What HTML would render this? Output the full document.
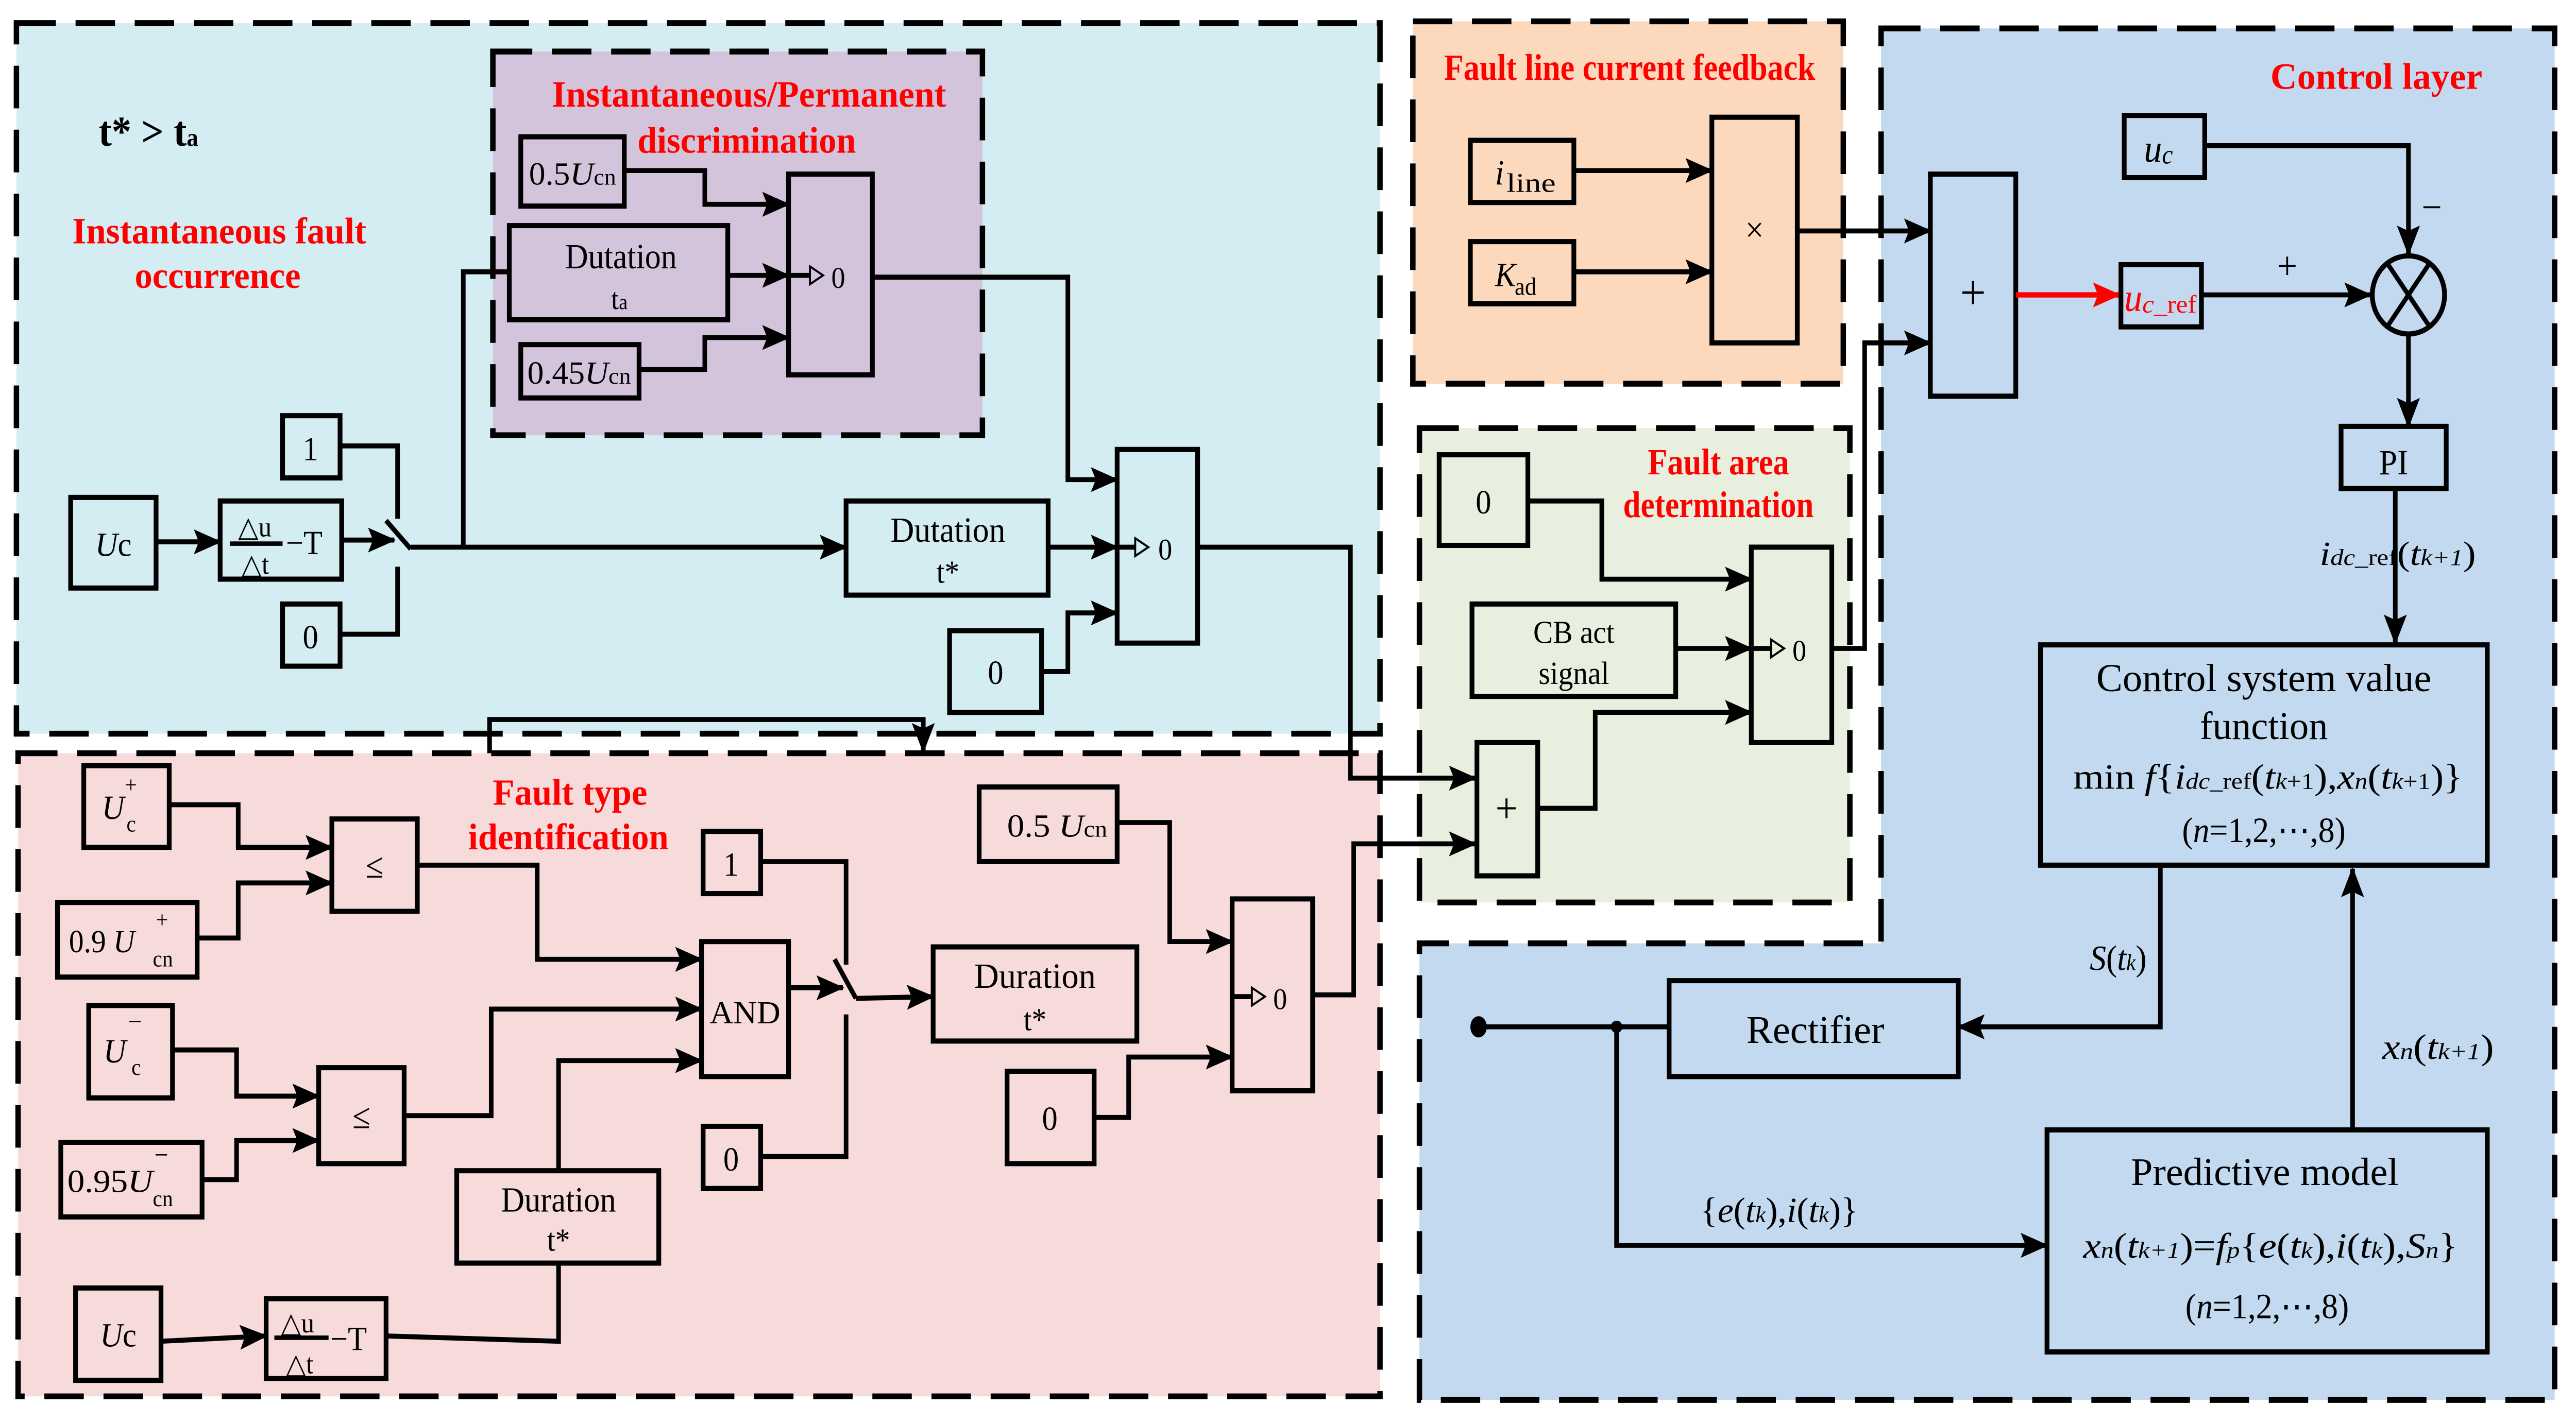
<!DOCTYPE html>
<html><head><meta charset="utf-8"><style>
html,body{margin:0;padding:0;background:#fff;overflow:hidden;width:100%;height:100%;}
svg{display:block;position:fixed;left:0;top:0;width:100vw;height:100vh;}
text{font-family:"Liberation Serif",serif;fill:#000;}
.r{fill:#ff0000;font-weight:bold;font-size:21px;}
.b{fill:none;stroke:#000;stroke-width:2.9;}
.l{fill:none;stroke:#000;stroke-width:2.8;}
.la{fill:none;stroke:#000;stroke-width:2.8;marker-end:url(#ar);}
.d{fill:none;stroke:#000;stroke-width:3.3;stroke-dasharray:24 12;}
</style></head><body>
<svg viewBox="0 0 1568 801" preserveAspectRatio="none" xmlns="http://www.w3.org/2000/svg">
<defs>
<marker id="ar" markerUnits="userSpaceOnUse" markerWidth="18" markerHeight="16" refX="16" refY="7" orient="auto"><path d="M0,0 L17,7 L0,14 L3,7 z" fill="#000"/></marker>
<marker id="arr" markerUnits="userSpaceOnUse" markerWidth="18" markerHeight="16" refX="16" refY="7" orient="auto"><path d="M0,0 L17,7 L0,14 L3,7 z" fill="#ff0000"/></marker>
</defs>
<rect width="1568" height="801" fill="#fff"/>
<!-- regions -->
<rect x="10" y="13" width="830" height="400" fill="#d4edf2"/>
<rect x="300" y="29" width="298" height="216" fill="#d3c4dc"/>
<rect x="11" y="424" width="829" height="362" fill="#f7dada"/>
<rect x="860" y="12" width="262" height="204" fill="#fcd8bc"/>
<rect x="864" y="241" width="262" height="267" fill="#e8efdf"/>
<path d="M1145,16 H1555 V788 H864 V531 H1145 Z" fill="#c2d9ef"/>
<rect x="10" y="13" width="830" height="400" class="d"/>
<rect x="300" y="29" width="298" height="216" class="d"/>
<rect x="11" y="424" width="829" height="362" class="d"/>
<rect x="860" y="12" width="262" height="204" class="d"/>
<rect x="864" y="241" width="262" height="267" class="d"/>
<path d="M1145,16 H1555 V788 H864 V531 H1145 Z" class="d"/>

<!-- titles -->
<text x="60" y="82" font-size="24" font-weight="bold">t* &gt;  t<tspan font-size="14">a</tspan></text>
<text class="r" x="44" y="137" textLength="179" lengthAdjust="spacingAndGlyphs">Instantaneous fault</text>
<text class="r" x="82" y="162" textLength="101" lengthAdjust="spacingAndGlyphs">occurrence</text>
<text class="r" x="336" y="60" textLength="240" lengthAdjust="spacingAndGlyphs">Instantaneous/Permanent</text>
<text class="r" x="388" y="86" textLength="133" lengthAdjust="spacingAndGlyphs">discrimination</text>
<text class="r" x="300" y="453" textLength="94" lengthAdjust="spacingAndGlyphs">Fault type</text>
<text class="r" x="285" y="478" textLength="122" lengthAdjust="spacingAndGlyphs">identification</text>
<text class="r" x="879" y="45" font-size="19" textLength="226" lengthAdjust="spacingAndGlyphs">Fault line current feedback</text>
<text class="r" x="1003" y="267" textLength="86" lengthAdjust="spacingAndGlyphs">Fault area</text>
<text class="r" x="988" y="291" textLength="116" lengthAdjust="spacingAndGlyphs">determination</text>
<text class="r" x="1382" y="50" font-size="22" textLength="129" lengthAdjust="spacingAndGlyphs">Control  layer</text>

<!-- ===== top-left region ===== -->
<rect x="43" y="280" width="52" height="51" class="b"/>
<text x="69" y="313" font-size="19" text-anchor="middle"><tspan font-style="italic">U</tspan>c</text>
<line x1="95" y1="305" x2="134" y2="305" class="la"/>
<rect x="134" y="282" width="74" height="44" class="b"/>
<text x="145" y="302" font-size="16">△u</text>
<line x1="140" y1="306" x2="172" y2="306" stroke="#000" stroke-width="2.5"/>
<text x="174" y="312" font-size="19">−T</text>
<text x="147" y="323" font-size="16">△t</text>
<line x1="208" y1="304" x2="240" y2="304" class="la"/>
<rect x="172" y="234" width="35" height="35" class="b"/><text x="189" y="259" font-size="19" text-anchor="middle">1</text>
<rect x="172" y="340" width="35" height="35" class="b"/><text x="189" y="365" font-size="19" text-anchor="middle">0</text>
<polyline points="207,251 242,251 242,292" class="l"/>
<polyline points="207,357 242,357 242,319" class="l"/>
<line x1="235" y1="293" x2="250" y2="309" class="l"/>
<line x1="250" y1="308" x2="515" y2="308" class="la"/>
<polyline points="282,308 282,153 310,153" class="l"/>
<!-- purple -->
<rect x="317" y="77" width="63" height="39" class="b"/>
<text x="322" y="104" font-size="18" textLength="53" lengthAdjust="spacingAndGlyphs">0.5<tspan font-style="italic">U</tspan><tspan font-size="13">cn</tspan></text>
<rect x="310" y="127" width="133" height="53" class="b"/>
<text x="344" y="151" font-size="20" textLength="68" lengthAdjust="spacingAndGlyphs">Dutation</text>
<text x="377" y="174" font-size="17" text-anchor="middle">t<tspan font-size="12">a</tspan></text>
<rect x="317" y="194" width="72" height="30" class="b"/>
<text x="321" y="216" font-size="18" textLength="63" lengthAdjust="spacingAndGlyphs">0.45<tspan font-style="italic">U</tspan><tspan font-size="13">cn</tspan></text>
<polyline points="380,96 429,96 429,115 480,115" class="la"/>
<line x1="443" y1="155" x2="480" y2="155" class="la"/>
<polyline points="389,208 429,208 429,190 480,190" class="la"/>
<rect x="480" y="98" width="51" height="113" class="b"/>
<line x1="480" y1="155" x2="493" y2="155" class="l"/><polygon points="493,150 501,155 493,160" fill="none" stroke="#000" stroke-width="1.2"/>
<text x="506" y="162" font-size="17">0</text>
<polyline points="531,156 650,156 650,270 680,270" class="la"/>
<rect x="515" y="282" width="123" height="53" class="b"/>
<text x="542" y="305" font-size="20" textLength="70" lengthAdjust="spacingAndGlyphs">Dutation</text>
<text x="577" y="328" font-size="18" text-anchor="middle">t*</text>
<line x1="638" y1="308" x2="680" y2="308" class="la"/>
<rect x="680" y="253" width="49" height="109" class="b"/>
<line x1="680" y1="308" x2="691" y2="308" class="l"/><polygon points="691,303 699,308 691,313" fill="none" stroke="#000" stroke-width="1.2"/>
<text x="705" y="315" font-size="17">0</text>
<rect x="578" y="355" width="56" height="46" class="b"/><text x="606" y="385" font-size="19" text-anchor="middle">0</text>
<polyline points="634,378 650,378 650,345 680,345" class="la"/>
<polyline points="729,308 822,308 822,438 898,438" class="la"/>
<polyline points="298,424 298,405 562,405 562,423" class="la"/>

<!-- ===== red region ===== -->
<rect x="51" y="431" width="52" height="46" class="b"/>
<text x="62" y="461" font-size="19" font-style="italic">U</text><text x="76" y="446" font-size="13">+</text><text x="77" y="468" font-size="13">c</text>
<polyline points="103,453 145,453 145,477 202,477" class="la"/>
<rect x="35" y="508" width="85" height="42" class="b"/>
<text x="42" y="536" font-size="18">0.9  <tspan font-style="italic">U</tspan></text><text x="95" y="522" font-size="13">+</text><text x="93" y="544" font-size="13">cn</text>
<polyline points="120,528 145,528 145,497 202,497" class="la"/>
<rect x="202" y="461" width="52" height="52" class="b"/><text x="228" y="494" font-size="20" text-anchor="middle">≤</text>
<polyline points="254,487 327,487 327,540 427,540" class="la"/>
<rect x="54" y="566" width="51" height="52" class="b"/>
<text x="63" y="598" font-size="19" font-style="italic">U</text><text x="78" y="580" font-size="15">−</text><text x="80" y="605" font-size="13">c</text>
<polyline points="105,591 144,591 144,617 194,617" class="la"/>
<rect x="37" y="643" width="86" height="42" class="b"/>
<text x="41" y="671" font-size="18" textLength="52" lengthAdjust="spacingAndGlyphs">0.95<tspan font-style="italic">U</tspan></text><text x="94" y="655" font-size="15">−</text><text x="93" y="679" font-size="13">cn</text>
<polyline points="123,664 144,664 144,642 194,642" class="la"/>
<rect x="194" y="601" width="52" height="54" class="b"/><text x="220" y="635" font-size="20" text-anchor="middle">≤</text>
<polyline points="246,628 299,628 299,568 427,568" class="la"/>
<rect x="278" y="659" width="123" height="52" class="b"/>
<text x="305" y="682" font-size="20" textLength="70" lengthAdjust="spacingAndGlyphs">Duration</text>
<text x="340" y="704" font-size="18" text-anchor="middle">t*</text>
<polyline points="340,659 340,597 427,597" class="la"/>
<rect x="46" y="725" width="52" height="52" class="b"/>
<text x="72" y="758" font-size="19" text-anchor="middle"><tspan font-style="italic">U</tspan>c</text>
<line x1="98" y1="755" x2="162" y2="752" class="la"/>
<rect x="162" y="731" width="73" height="45" class="b"/>
<text x="171" y="750" font-size="16">△u</text>
<line x1="167" y1="753" x2="200" y2="753" stroke="#000" stroke-width="2.5"/>
<text x="201" y="760" font-size="19">−T</text>
<text x="174" y="773" font-size="16">△t</text>
<polyline points="235,752 340,755 340,711" class="l"/>
<rect x="427" y="530" width="53" height="76" class="b"/><text x="432" y="576" font-size="18" textLength="43" lengthAdjust="spacingAndGlyphs">AND</text>
<rect x="428" y="468" width="35" height="35" class="b"/><text x="445" y="493" font-size="19" text-anchor="middle">1</text>
<rect x="428" y="634" width="35" height="35" class="b"/><text x="445" y="659" font-size="19" text-anchor="middle">0</text>
<polyline points="463,485 515,485 515,543" class="l"/>
<polyline points="463,651 515,651 515,571" class="l"/>
<line x1="480" y1="556" x2="513" y2="556" class="la"/>
<line x1="508" y1="540" x2="521" y2="562" class="l"/>
<line x1="521" y1="562" x2="568" y2="561" class="la"/>
<rect x="568" y="533" width="124" height="53" class="b"/>
<text x="593" y="556" font-size="20" textLength="74" lengthAdjust="spacingAndGlyphs">Duration</text>
<text x="630" y="580" font-size="18" text-anchor="middle">t*</text>
<rect x="596" y="443" width="84" height="42" class="b"/>
<text x="613" y="471" font-size="18" textLength="61" lengthAdjust="spacingAndGlyphs">0.5  <tspan font-style="italic">U</tspan><tspan font-size="13">cn</tspan></text>
<polyline points="680,463 712,463 712,530 750,530" class="la"/>
<rect x="613" y="603" width="53" height="52" class="b"/><text x="639" y="636" font-size="19" text-anchor="middle">0</text>
<polyline points="666,629 687,629 687,595 750,595" class="la"/>
<rect x="750" y="506" width="49" height="108" class="b"/>
<line x1="750" y1="561" x2="762" y2="561" class="l"/><polygon points="762,556 770,561 762,566" fill="none" stroke="#000" stroke-width="1.2"/>
<text x="775" y="568" font-size="17">0</text>
<polyline points="799,560 824,560 824,475 898,475" class="la"/>

<!-- ===== orange ===== -->
<rect x="895" y="79" width="63" height="35" class="b"/>
<text x="910" y="104" font-size="20" font-style="italic">i</text><text x="917" y="108" font-size="15" textLength="30" lengthAdjust="spacingAndGlyphs">line</text>
<rect x="895" y="136" width="63" height="35" class="b"/>
<text x="910" y="161" font-size="19" font-style="italic">K</text><text x="922" y="166" font-size="14">ad</text>
<line x1="958" y1="96" x2="1042" y2="96" class="la"/>
<line x1="958" y1="153" x2="1042" y2="153" class="la"/>
<rect x="1042" y="66" width="52" height="127" class="b"/>
<text x="1068" y="136" font-size="20" text-anchor="middle">×</text>
<line x1="1094" y1="130" x2="1175" y2="130" class="la"/>

<!-- ===== green ===== -->
<rect x="876" y="256" width="54" height="51" class="b"/><text x="903" y="289" font-size="19" text-anchor="middle">0</text>
<polyline points="930,282 975,282 975,326 1066,326" class="la"/>
<rect x="896" y="340" width="124" height="52" class="b"/>
<text x="958" y="362" font-size="18" text-anchor="middle">CB act</text>
<text x="958" y="385" font-size="18" text-anchor="middle">signal</text>
<line x1="1020" y1="365" x2="1066" y2="365" class="la"/>
<rect x="1066" y="308" width="49" height="110" class="b"/>
<line x1="1066" y1="365" x2="1078" y2="365" class="l"/><polygon points="1078,360 1086,365 1078,370" fill="none" stroke="#000" stroke-width="1.2"/>
<text x="1091" y="372" font-size="17">0</text>
<rect x="899" y="418" width="37" height="75" class="b"/>
<text x="917" y="463" font-size="24" text-anchor="middle">+</text>
<polyline points="936,455 971,455 971,401 1066,401" class="la"/>
<polyline points="1115,365 1135,365 1135,193 1175,193" class="la"/>

<!-- ===== control layer ===== -->
<rect x="1175" y="98" width="52" height="125" class="b"/>
<text x="1201" y="174" font-size="28" text-anchor="middle">+</text>
<line x1="1227" y1="166" x2="1290" y2="166" fill="none" stroke="#ff0000" stroke-width="3" marker-end="url(#arr)"/>
<rect x="1293" y="65" width="49" height="35" class="b"/>
<text x="1305" y="91" font-size="22" font-style="italic">u</text><text x="1316" y="92" font-size="15" font-style="italic">c</text>
<rect x="1291" y="149" width="49" height="35" class="b"/>
<text x="1293" y="175" font-size="22" font-style="italic" style="fill:#ff0000">u</text><text x="1304" y="176" font-size="14" style="fill:#ff0000" textLength="33" lengthAdjust="spacingAndGlyphs"><tspan font-style="italic">c</tspan>_ref</text>
<polyline points="1342,82 1466,82 1466,143" class="la"/>
<line x1="1340" y1="166" x2="1443" y2="166" class="la"/>
<circle cx="1466" cy="166" r="22" fill="none" stroke="#000" stroke-width="2.9"/>
<line x1="1453" y1="148" x2="1479" y2="184" stroke="#000" stroke-width="2.7"/>
<line x1="1479" y1="148" x2="1453" y2="184" stroke="#000" stroke-width="2.7"/>
<text x="1474" y="124" font-size="22">−</text>
<text x="1386" y="157" font-size="22">+</text>
<line x1="1466" y1="188" x2="1466" y2="240" class="la"/>
<rect x="1425" y="240" width="64" height="35" class="b"/>
<text x="1457" y="267" font-size="20" text-anchor="middle">PI</text>
<line x1="1458" y1="275" x2="1458" y2="362" class="la"/>
<text x="1412" y="318" font-size="19" textLength="95" lengthAdjust="spacingAndGlyphs"><tspan font-style="italic">i</tspan><tspan font-size="13" font-style="italic">dc</tspan><tspan font-size="13">_ref</tspan>(<tspan font-style="italic">t</tspan><tspan font-size="13" font-style="italic">k+1</tspan>)</text>
<rect x="1242" y="363" width="272" height="124" class="b"/>
<text x="1276" y="389" font-size="22" textLength="204" lengthAdjust="spacingAndGlyphs">Control system value</text>
<text x="1339" y="416" font-size="22" textLength="78" lengthAdjust="spacingAndGlyphs">function</text>
<text x="1262" y="444" font-size="20" textLength="237" lengthAdjust="spacingAndGlyphs">min <tspan font-style="italic">f</tspan>{<tspan font-style="italic">i</tspan><tspan font-size="13" font-style="italic">dc</tspan><tspan font-size="13">_ref</tspan>(<tspan font-style="italic">t</tspan><tspan font-size="13" font-style="italic">k</tspan><tspan font-size="13">+1</tspan>),<tspan font-style="italic">x</tspan><tspan font-size="13" font-style="italic">n</tspan>(<tspan font-style="italic">t</tspan><tspan font-size="13" font-style="italic">k</tspan><tspan font-size="13">+1</tspan>)}</text>
<text x="1378" y="474" font-size="20" text-anchor="middle">(<tspan font-style="italic">n</tspan>=1,2,⋯,8)</text>
<polyline points="1315,487 1315,578 1192,578" class="la"/>
<text x="1272" y="546" font-size="20"><tspan font-style="italic">S</tspan>(<tspan font-style="italic">t</tspan><tspan font-size="13" font-style="italic">k</tspan>)</text>
<rect x="1016" y="552" width="176" height="54" class="b"/>
<text x="1063" y="587" font-size="22" textLength="84" lengthAdjust="spacingAndGlyphs">Rectifier</text>
<line x1="900" y1="578" x2="1016" y2="578" class="l"/>
<ellipse cx="900" cy="578" rx="5" ry="6" fill="#000"/>
<circle cx="984" cy="578" r="3.5" fill="#000"/>
<polyline points="984,578 984,701 1246,701" class="la"/>
<text x="1035" y="688" font-size="20" textLength="96" lengthAdjust="spacingAndGlyphs">{<tspan font-style="italic">e</tspan>(<tspan font-style="italic">t</tspan><tspan font-size="13" font-style="italic">k</tspan>),<tspan font-style="italic">i</tspan>(<tspan font-style="italic">t</tspan><tspan font-size="13" font-style="italic">k</tspan>)}</text>
<rect x="1246" y="636" width="268" height="125" class="b"/>
<text x="1297" y="667" font-size="22" textLength="163" lengthAdjust="spacingAndGlyphs">Predictive model</text>
<text x="1268" y="708" font-size="20" textLength="228" lengthAdjust="spacingAndGlyphs"><tspan font-style="italic">x</tspan><tspan font-size="13" font-style="italic">n</tspan>(<tspan font-style="italic">t</tspan><tspan font-size="13" font-style="italic">k+1</tspan>)=<tspan font-style="italic">f</tspan><tspan font-size="13" font-style="italic">p</tspan>{<tspan font-style="italic">e</tspan>(<tspan font-style="italic">t</tspan><tspan font-size="13" font-style="italic">k</tspan>),<tspan font-style="italic">i</tspan>(<tspan font-style="italic">t</tspan><tspan font-size="13" font-style="italic">k</tspan>),<tspan font-style="italic">S</tspan><tspan font-size="13" font-style="italic">n</tspan>}</text>
<text x="1380" y="742" font-size="20" text-anchor="middle">(<tspan font-style="italic">n</tspan>=1,2,⋯,8)</text>
<line x1="1432" y1="636" x2="1432" y2="489" class="la"/>
<text x="1450" y="596" font-size="20" textLength="68" lengthAdjust="spacingAndGlyphs"><tspan font-style="italic">x</tspan><tspan font-size="13" font-style="italic">n</tspan>(<tspan font-style="italic">t</tspan><tspan font-size="13" font-style="italic">k+1</tspan>)</text>
</svg>
</body></html>
